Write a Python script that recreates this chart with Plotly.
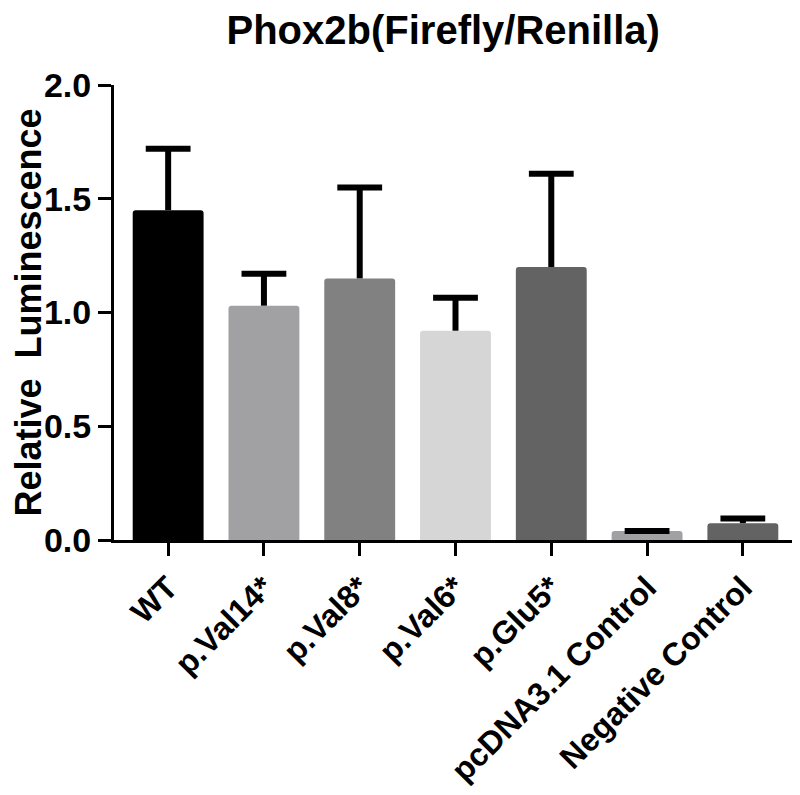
import plotly.graph_objects as go

categories = ["WT", "p.Val14*", "p.Val8*", "p.Val6*", "p.Glu5*",
              "pcDNA3.1 Control", "Negative Control"]
means = [1.45, 1.03, 1.15, 0.92, 1.20, 0.04, 0.074]
sem_up = [0.27, 0.14, 0.40, 0.145, 0.41, 0.0, 0.02]
bar_colors = ["#000000", "#a1a1a4", "#818181", "#d6d6d6", "#636363",
              "#a1a1a4", "#636363"]
y_ticks = [0.0, 0.5, 1.0, 1.5, 2.0]

FONT = "Liberation Sans, Arial, sans-serif"

tops = [m + e for m, e in zip(means, sem_up)]

# upper-only error bars: stems + caps, no lower cap
stem_x, stem_y = [], []
for c, m, t in zip(categories, means, tops):
    stem_x += [c, c, None]
    stem_y += [m, t, None]

# the page body has an 8px margin, so the figure itself is 8px smaller
fig = go.Figure()
fig.add_trace(go.Bar(
    x=categories,
    y=means,
    marker=dict(color=bar_colors, line=dict(width=0), cornerradius=3),
    showlegend=False,
))
fig.add_trace(go.Scatter(
    x=stem_x, y=stem_y, mode="lines",
    line=dict(color="black", width=6),
    showlegend=False, hoverinfo="skip",
))
fig.add_trace(go.Scatter(
    x=categories, y=tops, mode="markers",
    marker=dict(symbol="line-ew", size=32, line=dict(color="black", width=6)),
    showlegend=False,
))

fig.update_layout(
    width=792, height=787,
    plot_bgcolor="white", paper_bgcolor="white",
    margin=dict(l=106, r=3, t=77, b=255),
    bargap=0.26,
    font=dict(family=FONT, color="black"),
    title=dict(text="Phox2b(Firefly/Renilla)",
               font=dict(family=FONT, size=40, weight="bold", color="black"),
               x=0.482, xanchor="center", xref="paper",
               y=1 - 22 / 787, yanchor="middle", yref="container"),
)
fig.update_xaxes(
    automargin=False,
    showline=True, linecolor="black", linewidth=3,
    ticks="outside", ticklen=13, tickwidth=3, tickcolor="black",
    tickangle=-45, tickfont=dict(family=FONT, size=32, weight="bold"),
    showgrid=False,
)
fig.update_yaxes(
    automargin=False,
    range=[0, 2.0], tickvals=y_ticks, ticktext=[f"{v:.1f}" for v in y_ticks],
    showline=True, linecolor="black", linewidth=3,
    ticks="outside", ticklen=13, tickwidth=3, tickcolor="black",
    tickfont=dict(family=FONT, size=34, weight="bold"),
    showgrid=False, zeroline=False,
    title=dict(text="Relative  Luminescence", standoff=6,
               font=dict(family=FONT, size=36, weight="bold")),
)

fig.write_html("out.html")
